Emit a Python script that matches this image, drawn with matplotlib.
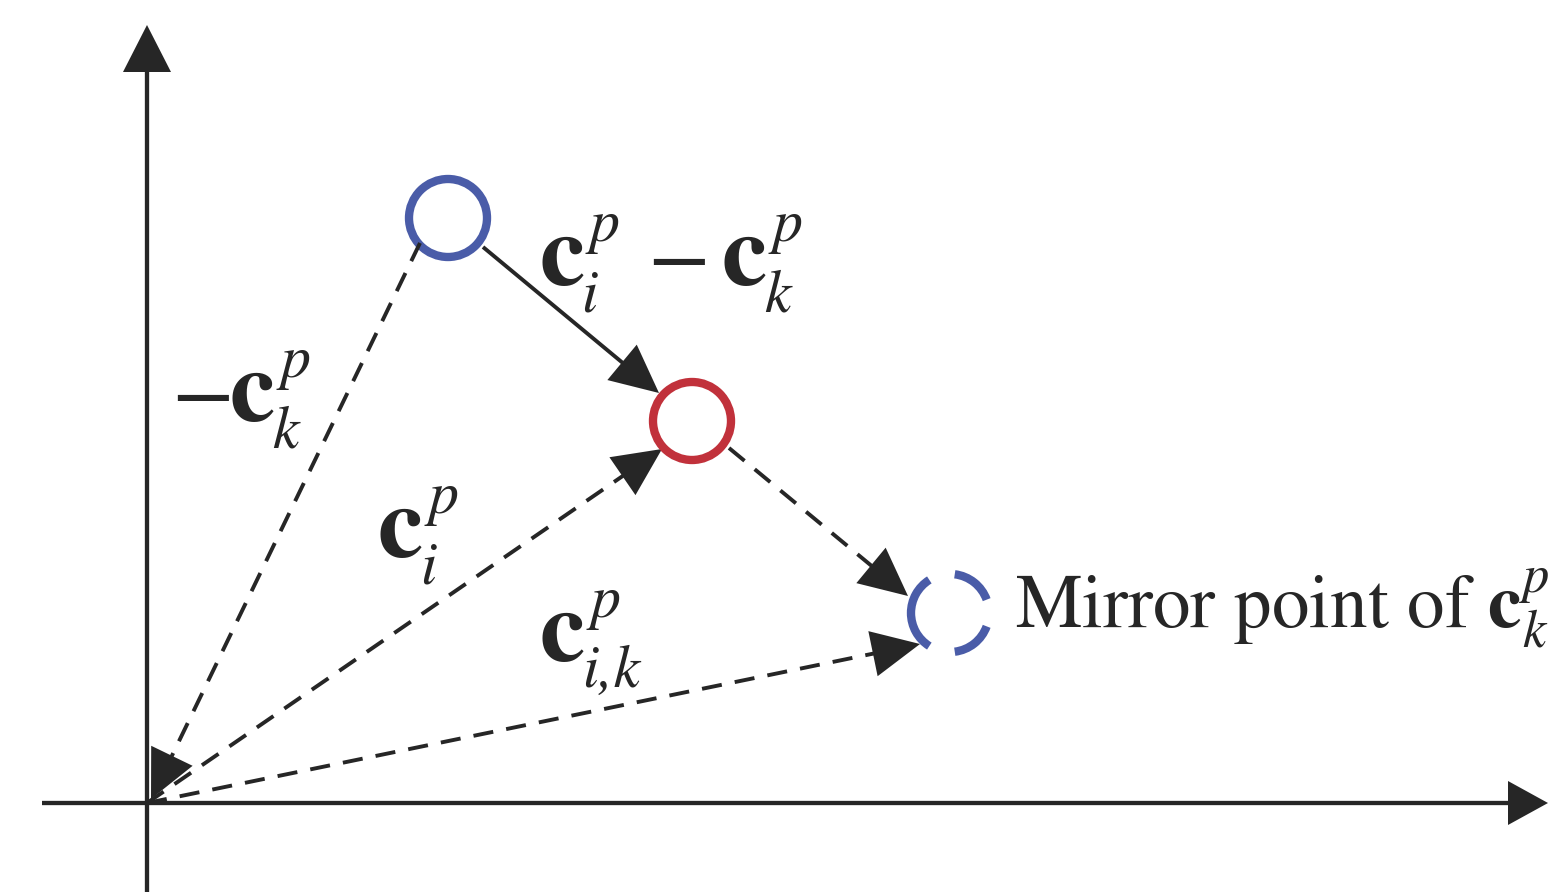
import numpy as np
import matplotlib
matplotlib.use('Agg')
import matplotlib.pyplot as plt
from matplotlib.patches import Circle, Arc, Polygon

plt.rcParams['mathtext.fontset'] = 'stix'
plt.rcParams['font.family'] = 'STIXGeneral'
plt.rcParams['lines.scale_dashes'] = False

W, H = 1548, 892
INK = '#262626'
BLUE = '#4a5ca8'
RED = '#c1313b'

# geometry in pixel units, y measured downward from the top edge
origin = (147, 803)
x_axis = ((42, 803), (1548, 803))
y_axis = ((147, 892), (147, 25))

ck_center = (448, 218)
ci_center = (692, 421)
mirror_center = (950, 613)
circle_radius = 39
mirror_arcs = [(122, 238), (20, 83), (-83, -20)]

solid_arrows = [((483, 247), (659, 393))]
dashed_arrows = [
    ((420, 243), (151, 799)),
    (origin, (662, 449)),
    ((729, 448), (908, 596)),
    (origin, (920, 644)),
]

# vector labels: (x of the bold c, baseline) and subscript
vector_labels = [
    ((541, 285), 'i'),
    ((724, 285), 'k'),
    ((232, 421), 'k'),
    ((380, 557), 'i'),
    ((542, 661), 'i,k'),
]
minus_signs = [(653, 285), (177, 421)]
mirror_text = (r'Mirror point of $\mathbf{c}_k^p$', (1015, 628))

BIG = 73
MINUS = 66
SCRIPT = 43


def draw_arrow(ax, start, tip, head_len=48, head_w=23, lw=2.8, dashed=False):
    start = np.asarray(start, float)
    tip = np.asarray(tip, float)
    d = tip - start
    u = d / np.hypot(*d)
    n = np.array([-u[1], u[0]])
    base = tip - head_len * u
    ls = (0, (14.5, 9.5)) if dashed else '-'
    ax.plot([start[0], base[0] + 2 * u[0]], [start[1], base[1] + 2 * u[1]],
            color=INK, lw=lw, linestyle=ls, solid_capstyle='butt',
            dash_capstyle='butt')
    ax.add_patch(Polygon([tip, base + head_w * n, base - head_w * n],
                         closed=True, facecolor=INK, edgecolor='none'))


def draw_minus(ax, x, y):
    ax.text(x - 6, y, '\u2212', fontsize=MINUS, color=INK,
            ha='left', va='baseline')


def draw_vector(ax, x, y, sub, sup='p'):
    ax.text(x - 2, y, 'c', fontsize=BIG, fontweight='bold', color=INK,
            ha='left', va='baseline')
    ax.text(x + 48, y - 44, sup, fontsize=SCRIPT, style='italic', color=INK,
            ha='left', va='baseline')
    ax.text(x + 40, y + 26, sub, fontsize=SCRIPT, style='italic', color=INK,
            ha='left', va='baseline')


fig = plt.figure(figsize=(W / 100, H / 100), dpi=100)
ax = fig.add_axes([0, 0, 1, 1])
ax.set_xlim(0, W)
ax.set_ylim(H, 0)
ax.axis('off')

draw_arrow(ax, *x_axis, head_len=40, head_w=22, lw=3.1)
draw_arrow(ax, *y_axis, head_len=47, head_w=24, lw=3.1)

for start, tip in dashed_arrows:
    draw_arrow(ax, start, tip, dashed=True)
for start, tip in solid_arrows:
    draw_arrow(ax, start, tip)

ax.add_patch(Circle(ck_center, circle_radius, fill=False, lw=6, ec=BLUE))
ax.add_patch(Circle(ci_center, circle_radius, fill=False, lw=6, ec=RED))
for t1, t2 in mirror_arcs:
    ax.add_patch(Arc(mirror_center, 2 * circle_radius, 2 * circle_radius,
                     theta1=t1, theta2=t2, lw=6, color=BLUE))

for (x, y), sub in vector_labels:
    draw_vector(ax, x, y, sub)
for x, y in minus_signs:
    draw_minus(ax, x, y)

text, (tx, ty) = mirror_text
ax.text(tx, ty, text, fontsize=54, color=INK, ha='left', va='baseline')

fig.savefig('out.png', dpi=100, facecolor='white')
